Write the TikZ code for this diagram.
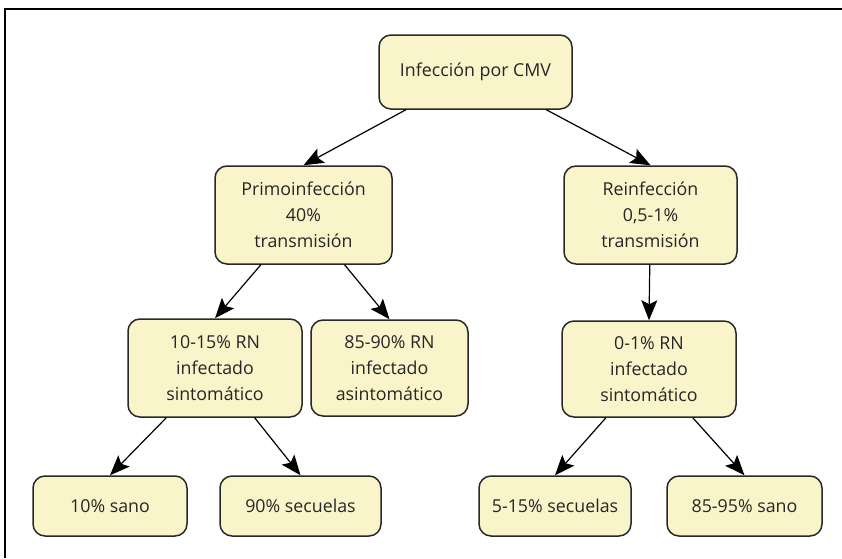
\documentclass[tikz,border=0pt]{standalone}
\usepackage{fontspec}
\setmainfont{Open Sans}
\usepackage{tikz}
\usetikzlibrary{arrows.meta}
\definecolor{boxfill}{RGB}{249,244,202}
\definecolor{boxline}{RGB}{40,40,40}

\begin{document}
\begin{tikzpicture}[x=0.5pt,y=-0.5pt,
    box/.style={draw=boxline,fill=boxfill,line width=0.75pt,rounded corners=6pt,
        align=center,inner sep=0pt,text=black!85,font=\fontsize{8.9}{13}\selectfont},
    arr/.style={-{Stealth[length=10pt,width=8pt,inset=2pt]},line width=0.6pt}]
            \useasboundingbox (0,0) rectangle (842,558);
            \draw [line width=1pt] (842,8.5) -- (5,8.5) -- (5,558);

            \node [box,minimum width=96.5pt,minimum height=37pt] (cmv) at (475.5,72) {Infección por CMV};
            \node [box,minimum width=88.5pt,minimum height=49pt] (primo) at (303.5,215) {Primoinfección\\40\%\\transmisión};
            \node [box,minimum width=86.5pt,minimum height=49pt] (reinf) at (650.5,215) {Reinfección\\0,5-1\%\\transmisión};
            \node [box,minimum width=87pt,minimum height=49pt] (sinto1) at (215,368) {10-15\% RN\\infectado\\sintomático};
            \node [box,minimum width=78.5pt,minimum height=48pt] (asinto) at (389.5,368) {85-90\% RN\\infectado\\asintomático};
            \node [box,minimum width=87pt,minimum height=48pt] (sinto2) at (649,369) {0-1\% RN\\infectado\\sintomático};
            \node [box,minimum width=77pt,minimum height=30pt] (sano1) at (110,506) {10\% sano};
            \node [box,minimum width=80.5pt,minimum height=30pt] (secu1) at (300.5,506) {90\% secuelas};
            \node [box,minimum width=76pt,minimum height=30pt] (secu2) at (555,506) {5-15\% secuelas};
            \node [box,minimum width=77.5pt,minimum height=30pt] (sano2) at (744.5,506) {85-95\% sano};

            \foreach \a/\b in {cmv/primo,cmv/reinf,primo/sinto1,primo/asinto,
                reinf/sinto2,sinto1/sano1,sinto1/secu1,sinto2/secu2,sinto2/sano2} {
                \draw [arr] (\a) -- (\b.north);
            }
        \end{tikzpicture}
\end{document}
